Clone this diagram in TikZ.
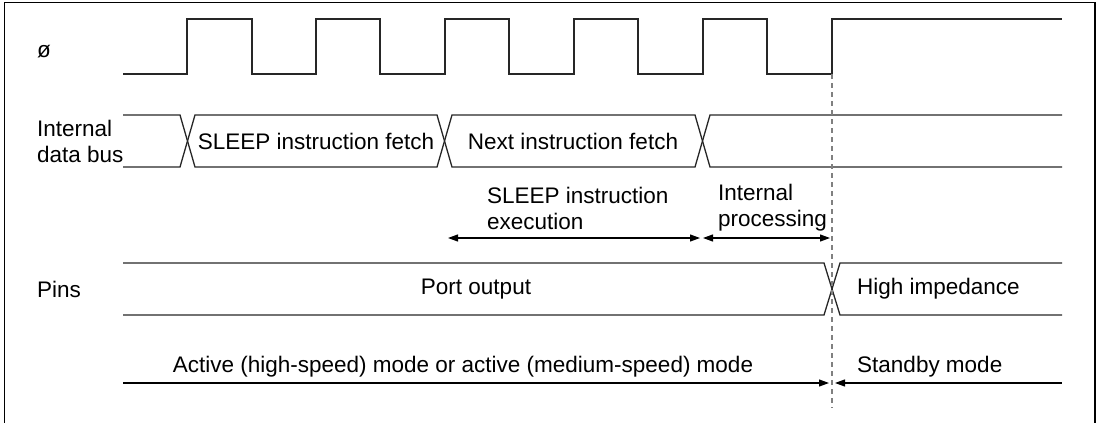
\documentclass[tikz,border=0pt]{standalone}
\usepackage{fontspec}
\setmainfont{Liberation Sans}
\usetikzlibrary{positioning, arrows.meta, calc}

\begin{document}
\begin{tikzpicture}[
  x=1pt, y=-1pt,
  >={Triangle[length=10pt, width=7pt]},
  sig/.style={draw=black!85, line width=1.3pt},
  lbl/.style={font=\fontsize{22.5}{26}\selectfont, inner sep=0pt, align=left},
  dim/.style={line width=1.1pt},
  guide/.style={draw=gray, line width=1.1pt, dash pattern=on 5pt off 4pt},
]
  \useasboundingbox (0,0) rectangle (1101,423);
  % Frame
  \draw[line width=1.2pt] (4.5,430) -- (4.5,2.5) -- (1095,2.5) -- (1095,430);
  % Clock
  \draw[sig] (123,74) foreach \r/\f in {187/252, 316/380, 445/509, 574/638, 703/767} {
      -- (\r,74) -- (\r,19) -- (\f,19) -- (\f,74) } -- (832,74) -- (832,19) -- (1062,19);
  % Internal data bus
  \draw[sig] (123,115) -- (180,115) -- (195,167) -- (437,167) -- (452,115) -- (695,115) -- (710,167) -- (1062,167);
  \draw[sig] (123,167) -- (180,167) -- (195,115) -- (437,115) -- (452,167) -- (695,167) -- (710,115) -- (1062,115);
  % Pins
  \draw[sig] (123,263) -- (824,263) -- (840,315) -- (1062,315);
  \draw[sig] (123,315) -- (824,315) -- (840,263) -- (1062,263);
  % Standby edge
  \coordinate (edge) at (832,74);
  \coordinate (edgeEnd) at (832,408);
  \draw[guide] (edge) -- (edgeEnd);
  % Signal names
  \node[lbl, anchor=west] (phi) at (37,52) {ø};
  \node[lbl, anchor=west] (bus) at (37,141) {Internal\\data bus};
  \node[lbl, anchor=west] (pins) at (37,289) {Pins};
  % Bus and pin states
  \node[lbl] (fetchS) at (316,141) {SLEEP instruction fetch};
  \node[lbl] (fetchN) at (573,141) {Next instruction fetch};
  \node[lbl] (port) at (476,289) {Port output};
  \node[lbl, anchor=west] (hiz) at (857,289) {High impedance};
  % Periods
  \node[lbl, anchor=west] (exec) at (487,208.5) {SLEEP instruction\\execution};
  \node[lbl, anchor=west] (intp) at (718,207.5) {Internal\\processing};
  \coordinate (exA) at (448,238);
  \coordinate (exB) at (700,238);
  \coordinate (ipA) at (703,238);
  \coordinate (ipB) at (830,238);
  \draw[dim, <->] (exA) -- (exB);
  \draw[dim, <->] (ipA) -- (ipB);
  % Modes
  \node[lbl] (active) at (463,367) {Active (high-speed) mode or active (medium-speed) mode};
  \node[lbl, anchor=west] (stby) at (857,367) {Standby mode};
  \coordinate (acA) at (123,383);
  \coordinate (acB) at (829,383);
  \coordinate (sbA) at (835,383);
  \coordinate (sbB) at (1062,383);
  \draw[dim, ->] (acA) -- (acB);
  \draw[dim, <-] (sbA) -- (sbB);
\end{tikzpicture}
\end{document}
